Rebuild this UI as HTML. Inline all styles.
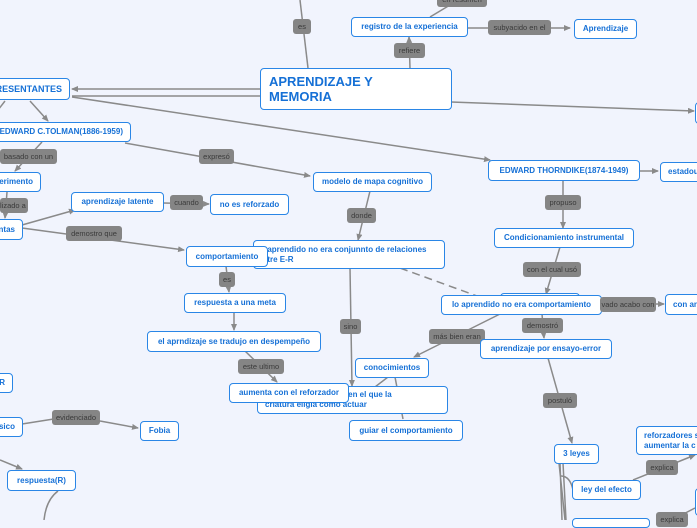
<!DOCTYPE html>
<html><head><meta charset="utf-8"><style>
body{margin:0;width:697px;height:520px;overflow:hidden;background:#f1f4fd;position:relative;font-family:"Liberation Sans",sans-serif}
.n{position:absolute;box-sizing:border-box;background:#fff;border:1.5px solid #2a86e6;border-radius:4px;color:#1570d6;font-weight:bold;font-size:8px;line-height:10px;padding:4px 7px;white-space:nowrap;overflow:hidden;display:flex;align-items:center;justify-content:center}
.l{position:absolute;box-sizing:border-box;background:#858585;border-radius:3px;color:#3a3a3a;font-size:7.5px;line-height:15px;height:15px;text-align:center;white-space:nowrap;overflow:hidden}
svg{position:absolute;left:0;top:0}
</style></head><body>
<svg width="697" height="520" viewBox="0 0 697 520" fill="none" stroke="#8a8a8a" stroke-width="1.5">
<defs><marker id="a" markerWidth="8" markerHeight="8" refX="6" refY="3" orient="auto" markerUnits="userSpaceOnUse"><path d="M0,0 L7,3 L0,6z" fill="#8a8a8a" stroke="none"/></marker></defs>
<path d="M300,0 L308,68"/>
<path d="M410,68 L409,37" marker-end="url(#a)"/>
<path d="M430,17 L450,5"/>
<path d="M467,28 L570,28" marker-end="url(#a)"/>
<path d="M260,89 L72,89" marker-end="url(#a)"/>
<path d="M260,96 L72,96"/>
<path d="M72,97 L490,160" marker-end="url(#a)"/>
<path d="M451,102 L694,111" marker-end="url(#a)"/>
<path d="M30,101 L48,121" marker-end="url(#a)"/>
<path d="M5,101 L-2,110"/>
<path d="M42,142 L15,171" marker-end="url(#a)"/>
<path d="M125,143 L310,176" marker-end="url(#a)"/>
<path d="M7,192 L5,218" marker-end="url(#a)"/>
<path d="M22,225 L75,210" marker-end="url(#a)"/>
<path d="M163,203 L209,204" marker-end="url(#a)"/>
<path d="M22,228 L184,250" marker-end="url(#a)"/>
<path d="M370,191 L358,240" marker-end="url(#a)"/>
<path d="M226,266 L229,292" marker-end="url(#a)"/>
<path d="M234,312 L234,330" marker-end="url(#a)"/>
<path d="M245,351 L277,382" marker-end="url(#a)"/>
<path d="M350,268 L352,386" marker-end="url(#a)"/>
<path d="M400,268 L488,300" stroke-dasharray="8,5"/>
<path d="M563,180 L563,228" marker-end="url(#a)"/>
<path d="M639,171 L658,171" marker-end="url(#a)"/>
<path d="M560,247 L546,294" marker-end="url(#a)"/>
<path d="M601,304 L664,304" marker-end="url(#a)"/>
<path d="M542,314 L544,338" marker-end="url(#a)"/>
<path d="M500,314 L414,357" marker-end="url(#a)"/>
<path d="M388,377 L375,387 M395,377 L403,419" />
<path d="M548,358 L572,443" marker-end="url(#a)"/>
<path d="M560,463 L562,520 M563,463 L566,520 M559,463 L565,520"/>
<path d="M561,476 Q570,476 573,490"/>
<path d="M633,480 L695,455" marker-end="url(#a)"/>
<path d="M672,520 L695,508"/>
<path d="M22,424 L60,418 M100,421 L138,428" marker-end="url(#a)"/>
<path d="M0,460 L22,469" marker-end="url(#a)"/>
<path d="M58,491 Q46,500 44,520"/>
</svg>
<div class="n" style="left:260px;top:68px;width:192px;height:42px;font-size:13px;line-height:15px;justify-content:flex-start;padding:0 8px;white-space:normal">APRENDIZAJE Y<br>MEMORIA</div>
<div class="l" style="left:437px;top:-8px;width:50px">en resumen</div>
<div class="l" style="left:293px;top:19px;width:18px">es</div>
<div class="n" style="left:351px;top:17px;width:117px;height:20px">registro de la experiencia</div>
<div class="l" style="left:488px;top:20px;width:63px">subyacido en el</div>
<div class="n" style="left:574px;top:19px;width:63px;height:20px">Aprendizaje</div>
<div class="l" style="left:394px;top:43px;width:31px">refiere</div>
<div class="n" style="left:-6px;top:78px;width:76px;height:22px;font-size:9px;justify-content:flex-end">RESENTANTES</div>
<div class="n" style="left:695px;top:102px;width:10px;height:22px"></div>
<div class="n" style="left:-6px;top:122px;width:137px;height:20px;justify-content:flex-end">EDWARD C.TOLMAN(1886-1959)</div>
<div class="l" style="left:0px;top:149px;width:57px">basado con un</div>
<div class="l" style="left:199px;top:149px;width:35px">expresó</div>
<div class="n" style="left:-6px;top:172px;width:47px;height:20px;justify-content:flex-end">erimento</div>
<div class="n" style="left:313px;top:172px;width:119px;height:20px">modelo de mapa cognitivo</div>
<div class="n" style="left:488px;top:160px;width:152px;height:21px">EDWARD THORNDIKE(1874-1949)</div>
<div class="n" style="left:660px;top:162px;width:45px;height:20px;justify-content:flex-start">estadou</div>
<div class="n" style="left:71px;top:192px;width:93px;height:20px">aprendizaje latente</div>
<div class="l" style="left:170px;top:195px;width:33px">cuando</div>
<div class="n" style="left:210px;top:194px;width:79px;height:21px">no es reforzado</div>
<div class="l" style="left:0px;top:198px;width:28px;text-align:right;padding-right:3px">lizado a</div>
<div class="l" style="left:347px;top:208px;width:29px">donde</div>
<div class="l" style="left:545px;top:195px;width:36px">propuso</div>
<div class="n" style="left:-6px;top:219px;width:29px;height:21px;justify-content:flex-end">ntas</div>
<div class="l" style="left:66px;top:226px;width:56px">demostro que</div>
<div class="n" style="left:494px;top:228px;width:140px;height:20px">Condicionamiento instrumental</div>
<div class="n" style="left:253px;top:240px;width:192px;height:29px;justify-content:flex-start;white-space:normal;padding:0 4px">lo aprendido no era conjunnto de relaciones<br>entre E-R</div>
<div class="n" style="left:186px;top:246px;width:82px;height:21px">comportamiento</div>
<div class="l" style="left:523px;top:262px;width:58px">con el cual usó</div>
<div class="l" style="left:219px;top:272px;width:16px">es</div>
<div class="n" style="left:184px;top:293px;width:102px;height:20px">respuesta a una meta</div>
<div class="n" style="left:500px;top:293px;width:80px;height:20px"></div>
<div class="n" style="left:441px;top:295px;width:161px;height:20px">lo aprendido no era comportamiento</div>
<div class="l" style="left:600px;top:297px;width:56px">vado acabo con</div>
<div class="n" style="left:665px;top:294px;width:40px;height:21px;justify-content:flex-start">con an</div>
<div class="l" style="left:522px;top:318px;width:41px">demostró</div>
<div class="l" style="left:340px;top:319px;width:21px">sino</div>
<div class="l" style="left:429px;top:329px;width:56px">más bien eran</div>
<div class="n" style="left:147px;top:331px;width:174px;height:21px">el aprndizaje se tradujo en despempeño</div>
<div class="n" style="left:480px;top:339px;width:132px;height:20px">aprendizaje por ensayo-error</div>
<div class="n" style="left:355px;top:358px;width:74px;height:20px">conocimientos</div>
<div class="l" style="left:238px;top:359px;width:46px">este ultimo</div>
<div class="n" style="left:-6px;top:373px;width:19px;height:20px;justify-content:flex-end">R</div>
<div class="n" style="left:257px;top:386px;width:191px;height:28px;justify-content:flex-start;white-space:normal;padding:0 7px">&nbsp;&nbsp;&nbsp;&nbsp;&nbsp;&nbsp;&nbsp;&nbsp;&nbsp;&nbsp;&nbsp;&nbsp;&nbsp;&nbsp;&nbsp;&nbsp;&nbsp;&nbsp;&nbsp;&nbsp;&nbsp;&nbsp;&nbsp;&nbsp;&nbsp;&nbsp;&nbsp;&nbsp;&nbsp;&nbsp;&nbsp;nte en el que la<br>criatura eligia como actuar</div>
<div class="n" style="left:229px;top:383px;width:120px;height:20px">aumenta con el reforzador</div>
<div class="l" style="left:543px;top:393px;width:34px">postuló</div>
<div class="l" style="left:52px;top:410px;width:48px">evidenciado</div>
<div class="n" style="left:-6px;top:417px;width:29px;height:20px;justify-content:flex-end">sico</div>
<div class="n" style="left:349px;top:420px;width:114px;height:21px">guiar el comportamiento</div>
<div class="n" style="left:140px;top:421px;width:39px;height:20px">Fobia</div>
<div class="n" style="left:636px;top:426px;width:70px;height:29px;justify-content:flex-start;padding:0 7px">reforzadores s<br>aumentar la c</div>
<div class="n" style="left:554px;top:444px;width:45px;height:20px">3 leyes</div>
<div class="l" style="left:646px;top:460px;width:32px">explica</div>
<div class="n" style="left:7px;top:470px;width:69px;height:21px">respuesta(R)</div>
<div class="n" style="left:572px;top:480px;width:69px;height:20px">ley del efecto</div>
<div class="n" style="left:695px;top:488px;width:10px;height:28px"></div>
<div class="l" style="left:656px;top:512px;width:32px">explica</div>
<div class="n" style="left:572px;top:518px;width:78px;height:10px"></div>
</body></html>
